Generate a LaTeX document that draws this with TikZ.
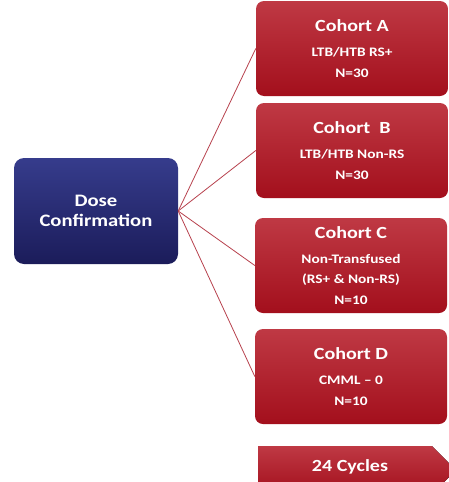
\documentclass[tikz,border=0pt]{standalone}
\usepackage{fontspec}
\setmainfont{Carlito}[FakeStretch=1.18]

\definecolor{cohortTop}{HTML}{BF3944}
\definecolor{cohortBot}{HTML}{A30F1C}
\definecolor{doseTop}{HTML}{363C8C}
\definecolor{doseBot}{HTML}{1B1C5A}
\definecolor{linkRed}{HTML}{B8424E}

\tikzset{
    cohortbox/.style={rounded corners=8, top color=cohortTop, bottom color=cohortBot,
        minimum width=192, minimum height=95, text=white, align=center,
        font=\fontsize{13}{20.5}\bfseries\selectfont, inner sep=0},
    dosebox/.style={rounded corners=10, top color=doseTop, bottom color=doseBot,
        minimum width=164, minimum height=106, text=white, align=center,
        font=\fontsize{17.5}{19.5}\bfseries\selectfont, inner sep=0},
    cyclefill/.style={top color=cohortTop, bottom color=cohortBot},
    cycletext/.style={text=white, font=\fontsize{17}{20}\bfseries\selectfont, inner sep=0},
    link/.style={draw=linkRed, line width=0.8}
}
\newcommand{\cohorttitle}[1]{{\fontsize{17}{20}\bfseries\selectfont #1}\\[4.5pt]}

\begin{document}
\begin{tikzpicture}[x=1pt, y=-1pt]
    \clip (0,0) rectangle (449,482);
    \fill [white] (0,0) rectangle (449,482);
    \node [dosebox] (dose) at (96,211) {Dose\\Confirmation};
    \node [cohortbox] (cohA) at (352,48.5) {\cohorttitle{Cohort A}LTB/HTB RS+\\N=30};
    \node [cohortbox] (cohB) at (352,150.5) {\cohorttitle{Cohort\ \ B}LTB/HTB Non-RS\\N=30};
    \node [cohortbox] (cohC) at (351,265.5) {\cohorttitle{Cohort C}Non-Transfused\\(RS+ \& Non-RS)\\N=10};
    \node [cohortbox] (cohD) at (351,376.5) {\cohorttitle{Cohort D}CMML -- 0\\N=10};
    % chevron at the bottom
    \fill [cyclefill] (258,446) -- (432,446) -- (456,470) -- (432,494) -- (258,494) -- cycle;
    \node [cycletext] (cycles) at (350,467) {24 Cycles};
    \foreach \c in {cohA, cohB, cohC, cohD}
        \draw [link] (dose.east) -- (\c.west);
\end{tikzpicture}
\end{document}
